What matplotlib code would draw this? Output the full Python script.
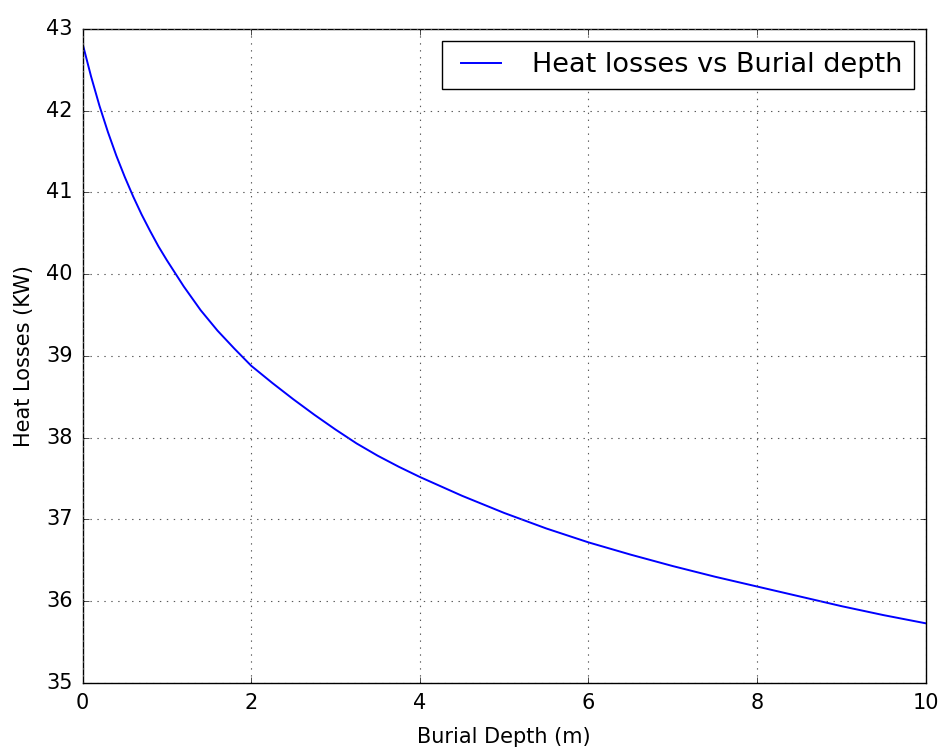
import matplotlib
matplotlib.use('Agg')
import matplotlib.pyplot as plt

# values
depth = [0, 0.1, 0.2, 0.3, 0.4, 0.5, 0.6, 0.7, 0.8, 0.9, 1.0, 1.2, 1.4, 1.6, 1.8,
         2.0, 2.25, 2.5, 2.75, 3.0, 3.25, 3.5, 3.75, 4.0, 4.5, 5.0, 5.5, 6.0,
         6.5, 7.0, 7.5, 8.0, 8.5, 9.0, 9.5, 10.0]
losses = [42.82, 42.42, 42.06, 41.74, 41.45, 41.19, 40.95, 40.73, 40.53, 40.34,
          40.17, 39.85, 39.56, 39.31, 39.09, 38.88, 38.67, 38.47, 38.28, 38.10,
          37.93, 37.78, 37.645, 37.52, 37.29, 37.08, 36.89, 36.72, 36.57, 36.43,
          36.30, 36.18, 36.06, 35.94, 35.83, 35.73]
xticks = [0, 2, 4, 6, 8, 10]
yticks = [35, 36, 37, 38, 39, 40, 41, 42, 43]

plt.style.use('classic')
fig = plt.figure(figsize=(9.42, 7.47), dpi=100)
fig.patch.set_facecolor('white')
ax = fig.add_axes([0.0877, 0.0857, 0.895, 0.8755])

ax.plot(depth, losses, color='b', linewidth=1.4, label='Heat losses vs Burial depth')
ax.set_xlim(0, 10)
ax.set_ylim(35, 43)
ax.set_xticks(xticks)
ax.set_yticks(yticks)
ax.tick_params(labelsize=15, pad=7)
ax.grid(True, color='0.35', linestyle=(0, (1, 4)), linewidth=0.8)
ax.set_xlabel('Burial Depth (m)', fontsize=15, labelpad=10)
ax.set_ylabel('Heat Losses (KW)', fontsize=15, labelpad=9)
ax.legend(loc='upper right', fontsize=19.5, handlelength=2.1, handletextpad=0.85,
          borderaxespad=0.45)

fig.savefig('out.png', dpi=100, facecolor='white')
